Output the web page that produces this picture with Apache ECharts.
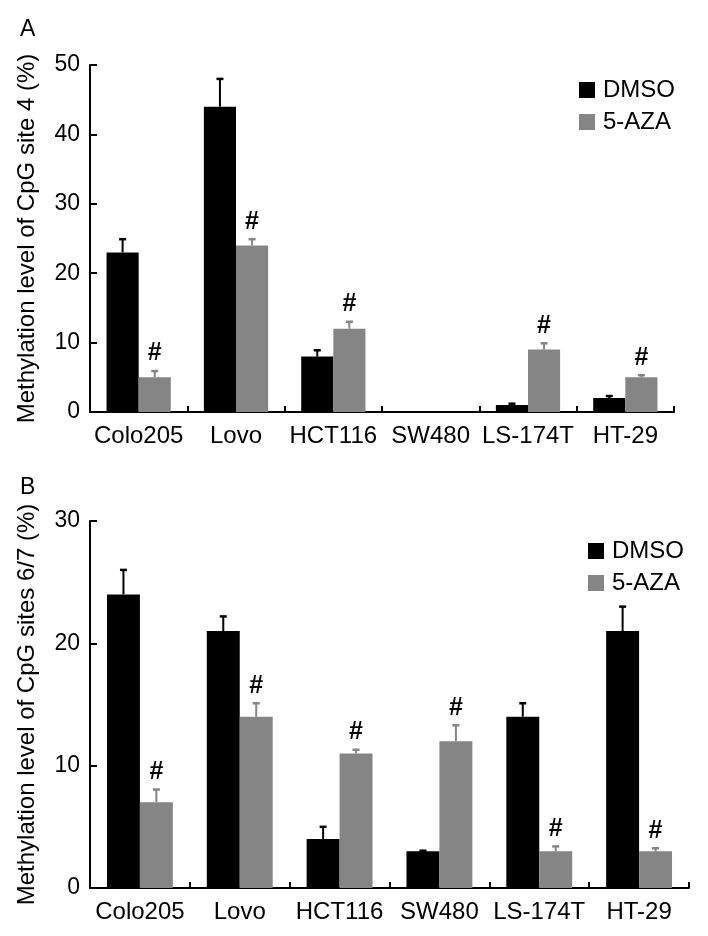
<!DOCTYPE html>
<html>
<head>
<meta charset="utf-8">
<script src="https://cdn.jsdelivr.net/npm/echarts@6/dist/echarts.min.js"></script>
<style>
html,body{margin:0;padding:0;background:#fff;}
#chart{width:708px;height:936px;}
</style>
</head>
<body>
<div id="chart"></div>
<script>
const categories = ['Colo205', 'Lovo', 'HCT116', 'SW480', 'LS-174T', 'HT-29'];
const seriesNames = ['DMSO', '5-AZA'];

// Panel A: CpG site 4
const dmsoA = [23, 44, 8, 0, 1, 2];
const dmsoErrA = [1.9, 4, 0.9, 0, 0.2, 0.3];
const azaA = [5, 24, 12, 0, 9, 5];
const azaErrA = [0.9, 0.9, 1, 0, 0.9, 0.3];
const azaSigA = [1, 1, 1, 0, 1, 1];
const yTicksA = { min: 0, max: 50, interval: 10 };

// Panel B: CpG sites 6/7
const dmsoB = [24, 21, 4, 3, 14, 21];
const dmsoErrB = [2, 1.2, 1, 0.05, 1.1, 2];
const azaB = [7, 14, 11, 12, 3, 3];
const azaErrB = [1.05, 1.1, 0.3, 1.3, 0.4, 0.25];
const azaSigB = [1, 1, 1, 1, 1, 1];
const yTicksB = { min: 0, max: 30, interval: 10 };

const FONT = 'Liberation Sans';
const BLACK = '#000000';
const GRAY = '#858585';
const BAR_FRAC = 0.33;

function errRender(sign, color) {
  return function (params, api) {
    const xi = api.value(0), v = api.value(1), e = api.value(2), sig = api.value(3);
    const band = api.size([1, 0])[0];
    const off = sign * band * BAR_FRAC / 2;
    const base = api.coord([xi, v]);
    const top = api.coord([xi, v + e]);
    const x = base[0] + off;
    const children = [];
    if (e > 0) {
      children.push({ type: 'line', shape: { x1: x, y1: base[1], x2: x, y2: top[1] }, style: { stroke: color, lineWidth: 2 } });
      children.push({ type: 'line', shape: { x1: x - 3.5, y1: top[1], x2: x + 3.5, y2: top[1] }, style: { stroke: color, lineWidth: 2.5 } });
    }
    if (sig) {
      children.push({ type: 'text', style: { text: '#', x: x, y: top[1] - 5, align: 'center', verticalAlign: 'bottom', fontSize: 25, fontWeight: 'bold', fontFamily: FONT, fill: BLACK } });
    }
    return { type: 'group', children: children };
  };
}

function errData(vals, errs, sigs) {
  return vals.map((v, i) => [i, v, errs[i], sigs ? sigs[i] : 0]);
}

const axisLabelX = { color: BLACK, fontFamily: FONT, fontSize: 24, margin: 12, interval: 0, hideOverlap: false };
const axisLabelY = { color: BLACK, fontFamily: FONT, fontSize: 23, margin: 10 };
const axisLine = { show: true, lineStyle: { color: BLACK, width: 2 } };

function xAxis(gi) {
  return {
    type: 'category', gridIndex: gi, data: categories,
    axisLine: axisLine,
    axisTick: { show: true, inside: true, length: 6, interval: 0, lineStyle: { color: BLACK, width: 2 } },
    axisLabel: axisLabelX, splitLine: { show: false }
  };
}
function yAxis(gi, t, name) {
  return {
    type: 'value', gridIndex: gi, min: t.min, max: t.max, interval: t.interval,
    name: name, nameLocation: 'middle', nameGap: 51,
    nameTextStyle: { color: BLACK, fontFamily: FONT, fontSize: 24 },
    axisLine: axisLine,
    axisTick: { show: true, inside: true, length: 7, lineStyle: { color: BLACK, width: 2 } },
    axisLabel: axisLabelY, splitLine: { show: false }
  };
}

function legend(left, top) {
  return {
    orient: 'vertical', left: left, top: top,
    data: seriesNames,
    icon: 'path://M0,0h16v16h-16z',
    itemWidth: 22, itemHeight: 16, itemGap: 8,
    textStyle: { color: BLACK, fontFamily: FONT, fontSize: 24 },
    selectedMode: false
  };
}

const option = {
  animation: false,
  backgroundColor: '#fff',
  graphic: [
    { type: 'text', left: 20, top: 18, style: { text: 'A', fontSize: 23, fontFamily: FONT, fill: BLACK } },
    { type: 'text', left: 20, top: 476, style: { text: 'B', fontSize: 23, fontFamily: FONT, fill: BLACK } }
  ],
  legend: [legend(574, 73), legend(583, 534)],
  grid: [
    { left: 90, top: 65, width: 584, height: 347 },
    { left: 90, top: 521, width: 599, height: 367 }
  ],
  xAxis: [xAxis(0), xAxis(1)],
  yAxis: [
    yAxis(0, yTicksA, 'Methylation level of CpG site 4 (%)'),
    yAxis(1, yTicksB, 'Methylation level of CpG sites 6/7 (%)')
  ],
  series: [
    { name: 'DMSO', type: 'bar', xAxisIndex: 0, yAxisIndex: 0, data: dmsoA, barWidth: '33%', barGap: '0%', itemStyle: { color: BLACK } },
    { name: '5-AZA', type: 'bar', xAxisIndex: 0, yAxisIndex: 0, data: azaA, barWidth: '33%', barGap: '0%', itemStyle: { color: GRAY } },
    { name: 'DMSO', type: 'bar', xAxisIndex: 1, yAxisIndex: 1, data: dmsoB, barWidth: '33%', barGap: '0%', itemStyle: { color: BLACK } },
    { name: '5-AZA', type: 'bar', xAxisIndex: 1, yAxisIndex: 1, data: azaB, barWidth: '33%', barGap: '0%', itemStyle: { color: GRAY } },
    { type: 'custom', xAxisIndex: 0, yAxisIndex: 0, renderItem: errRender(-1, BLACK), data: errData(dmsoA, dmsoErrA, null), z: 5 },
    { type: 'custom', xAxisIndex: 0, yAxisIndex: 0, renderItem: errRender(1, GRAY), data: errData(azaA, azaErrA, azaSigA), z: 5 },
    { type: 'custom', xAxisIndex: 1, yAxisIndex: 1, renderItem: errRender(-1, BLACK), data: errData(dmsoB, dmsoErrB, null), z: 5 },
    { type: 'custom', xAxisIndex: 1, yAxisIndex: 1, renderItem: errRender(1, GRAY), data: errData(azaB, azaErrB, azaSigB), z: 5 }
  ]
};

const chart = echarts.init(document.getElementById('chart'), null, { renderer: 'canvas' });
chart.setOption(option);
</script>
</body>
</html>
